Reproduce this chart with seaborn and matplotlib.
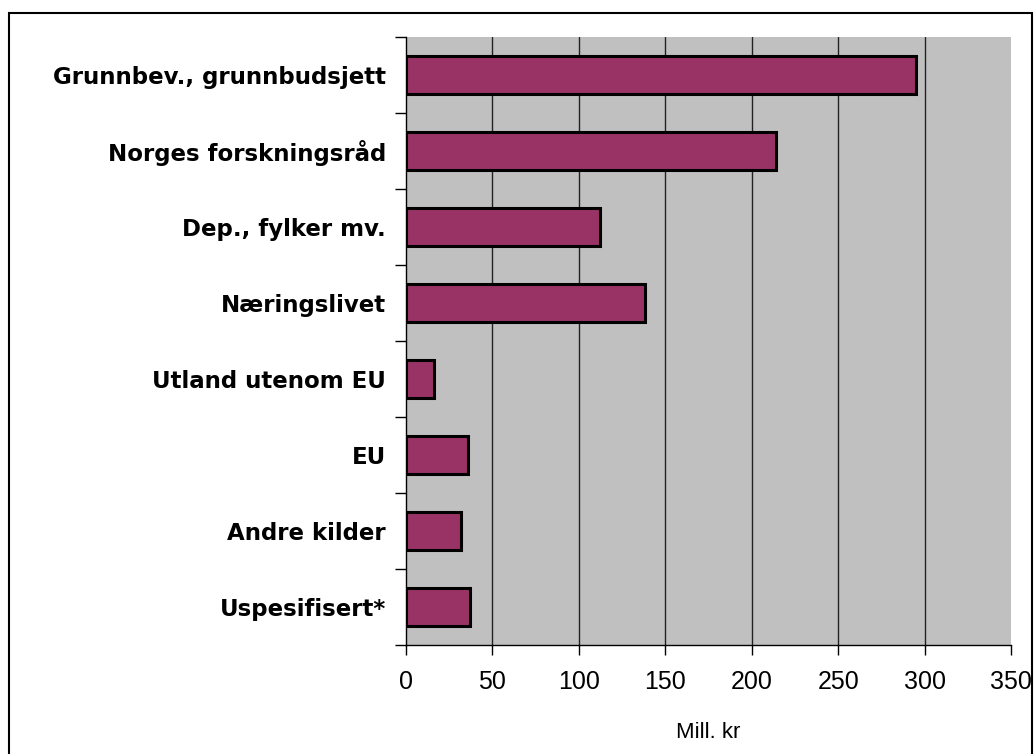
import matplotlib
matplotlib.use("Agg")
import matplotlib.pyplot as plt
import seaborn as sns
import pandas as pd
from matplotlib.patches import Rectangle
from matplotlib.ticker import FixedLocator

categories = ["Grunnbev., grunnbudsjett", "Norges forskningsråd", "Dep., fylker mv.",
              "Næringslivet", "Utland utenom EU", "EU", "Andre kilder", "Uspesifisert*"]
values = [295, 214, 112, 138, 16, 36, 32, 37]
x_ticks = [0, 50, 100, 150, 200, 250, 300, 350]
x_label = "Mill. kr"

sns.set_theme(style="white")
plt.rcParams["font.family"] = ["Liberation Sans", "DejaVu Sans"]
plt.rcParams["text.color"] = "black"
plt.rcParams["xtick.color"] = "black"
plt.rcParams["ytick.color"] = "black"
plt.rcParams["axes.labelcolor"] = "black"

df = pd.DataFrame({"kategori": categories, "verdi": values})

fig = plt.figure(figsize=(10.34, 7.54), dpi=100)
ax = fig.add_axes([406/1034, 1 - 645/754, (1011 - 406)/1034, (645 - 37)/754])
ax.set_facecolor("#C0C0C0")

sns.barplot(data=df, x="verdi", y="kategori", orient="h", color="#993366",
            saturation=1, width=0.49, edgecolor="black", linewidth=2.2, ax=ax, zorder=3)

ax.set_xlim(0, 350)
ax.set_ylim(len(categories) - 0.5, -0.5)
ax.set_xticks(x_ticks)
ax.set_xticklabels([str(t) for t in x_ticks], fontsize=18, color="black")
for t in x_ticks[1:-1]:
    ax.axvline(t, color="#222222", lw=1.0, zorder=1)

ax.tick_params(axis="x", direction="out", length=7, width=1, color="black", pad=11, bottom=True)
ax.tick_params(axis="y", which="major", length=0, pad=14.5)
ax.yaxis.set_minor_locator(FixedLocator([i - 0.5 for i in range(len(categories) + 1)]))
ax.tick_params(axis="y", which="minor", direction="out", length=8, width=1, color="black", left=True)
for lbl in ax.get_yticklabels():
    lbl.set_fontweight("bold")
    lbl.set_fontsize(16.5)
    lbl.set_family(["DejaVu Sans"])
    lbl.set_color("black")

ax.set_ylabel("")
ax.set_xlabel(x_label, fontsize=16, labelpad=20, color="black")

for side in ["top", "right"]:
    ax.spines[side].set_visible(False)
for side in ["left", "bottom"]:
    ax.spines[side].set_color("black")
    ax.spines[side].set_linewidth(1)

fig.patches.append(Rectangle((9/1034, -0.01), (1032 - 9)/1034, 1 - 13/754 + 0.01,
                             transform=fig.transFigure, fill=False, edgecolor="black", lw=1.5))

fig.savefig("out.png", dpi=100)
